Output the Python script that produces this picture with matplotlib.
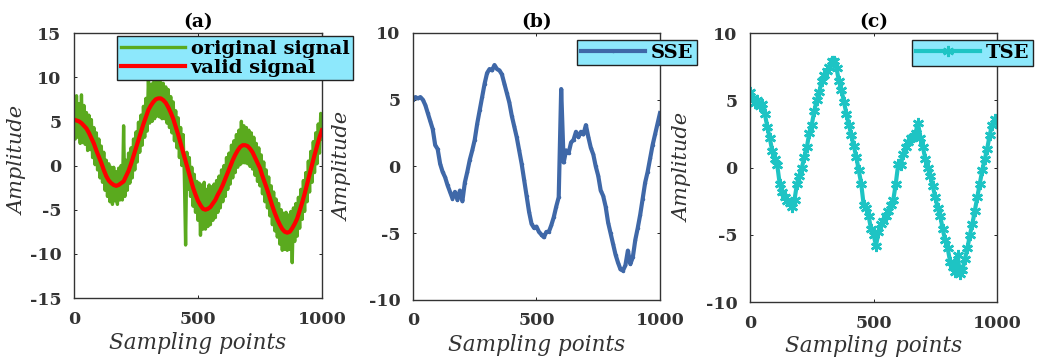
import numpy as np
import matplotlib
matplotlib.use("Agg")
import matplotlib.pyplot as plt

plt.rcParams["axes.unicode_minus"] = False

# sampling positions
x_orig = np.arange(0, 1001, 5)
x = np.arange(0, 1001, 10)

original_signal = [
    6.7, 3.0, 7.9, 3.2, 7.0, 2.5, 8.0, 2.6, 6.8, 2.4,
    6.0, 1.7, 5.7, 1.8, 5.2, 0.9, 4.3, 0.1, 3.7, -0.5,
    3.0, -1.4, 2.2, -1.9, 1.5, -2.8, 0.6, -3.5, 0.2, -4.1,
    -0.2, -4.4, -0.2, -4.0, -0.7, -4.4, -0.3, -3.9, 0.0, -3.9,
    4.5, -3.5, 0.6, -2.8, 1.4, -2.0, 2.0, -1.4, 3.0, -0.5,
    3.8, 0.4, 4.9, 1.5, 5.7, 2.3, 6.7, 3.2, 7.6, 3.9,
    10.0, 4.8, 9.2, 5.0, 9.4, 5.3, 9.4, 5.6, 9.6, 5.5,
    9.4, 5.3, 9.3, 5.3, 8.9, 4.8, 8.6, 4.3, 7.8, 3.7,
    7.2, 2.8, 6.2, 2.0, 5.4, 0.9, 4.3, 0.0, 3.5, -1.2,
    -9.0, 1.5, -2.7, 0.9, -3.5, -0.2, -4.6, -1.0, -5.3, -1.8,
    -6.2, -2.0, -7.9, -2.2, -7.2, -1.9, -7.2, -2.7, -6.9, -2.2,
    -6.7, -2.4, -6.2, -2.1, -5.9, -1.7, -5.3, -1.2, -4.8, -0.5,
    -4.1, 0.0, -3.5, 0.9, -2.7, 1.4, -2.1, 2.3, -1.4, 2.8,
    -0.8, 3.5, -0.2, 4.0, 0.1, 5.0, 0.3, 4.5, 0.3, 4.3,
    0.2, 4.0, -0.1, 3.7, -0.4, 3.2, -1.1, 2.5, -1.8, 2.0,
    -2.3, 1.2, -3.2, 0.4, -4.1, -0.5, -4.8, -1.3, -5.7, -2.3,
    -6.7, -3.0, -7.4, -3.8, -8.1, -4.3, -8.9, -5.0, -9.6, -5.4,
    -9.5, -5.3, -9.6, -5.6, -9.5, -5.2, -11.0, -4.8, -8.6, -4.3,
    -8.0, -3.6, -7.1, -2.7, -6.1, -1.7, -5.2, -0.8, -4.1, 0.5,
    -3.0, 1.6, -1.9, 2.7, -0.8, 3.7, 0.2, 4.7, 1.4, 5.9,
    3.0,
]

valid_signal = [
    5.2, 5.1, 5.0, 4.8, 4.5, 4.2, 3.7, 3.1, 2.5, 1.7,
    1.0, 0.3, -0.5, -1.2, -1.7, -2.0, -2.2, -2.3, -2.2, -2.0,
    -1.8, -1.2, -0.6, 0.2, 1.1, 2.0, 2.9, 3.8, 4.7, 5.5,
    6.3, 6.8, 7.2, 7.5, 7.6, 7.6, 7.4, 7.1, 6.6, 6.0,
    5.3, 4.4, 3.5, 2.5, 1.5, 0.5, -0.5, -1.5, -2.5, -3.3,
    -4.0, -4.5, -4.9, -5.0, -4.9, -4.7, -4.3, -3.9, -3.3, -2.8,
    -2.2, -1.5, -0.8, -0.1, 0.6, 1.2, 1.7, 2.1, 2.3, 2.3,
    2.2, 1.9, 1.5, 0.9, 0.3, -0.3, -1.2, -2.0, -2.8, -3.7,
    -4.6, -5.4, -6.1, -6.7, -7.2, -7.5, -7.6, -7.5, -7.1, -6.6,
    -6.0, -5.1, -4.2, -3.2, -2.1, -1.0, 0.1, 1.2, 2.2, 3.2,
    4.0,
]

sse = [
    5.0, 5.2, 5.1, 5.2, 5.0, 4.6, 4.0, 3.4, 2.8, 1.6,
    1.3, 0.2, -0.4, -0.8, -1.4, -1.9, -2.4, -1.9, -2.5, -1.8,
    -2.6, -1.2, -0.4, 0.5, 1.2, 2.0, 3.2, 4.2, 5.2, 6.2,
    7.0, 7.3, 7.2, 7.6, 7.3, 7.2, 6.9, 6.2, 5.5, 4.8,
    3.8, 3.0, 2.2, 1.2, 0.2, -1.0, -2.2, -3.4, -4.3, -4.6,
    -4.5, -4.9, -5.1, -5.3, -4.9, -4.9, -4.4, -3.8, -3.0, -2.3,
    5.8, 0.3, 1.2, 1.0, 1.8, 2.0, 2.6, 2.2, 2.6, 2.4,
    3.1, 2.2, 1.4, 0.9, 0.0, -0.7, -1.8, -2.2, -3.0, -4.2,
    -5.0, -5.8, -6.6, -7.2, -7.7, -7.8, -7.4, -6.3, -7.3, -6.8,
    -5.5, -4.6, -3.6, -2.4, -1.2, -0.4, 0.6, 1.6, 2.4, 3.2,
    4.0,
]

tse = [
    5.6, 5.2, 4.8, 5.0, 4.6, 4.7, 4.0, 3.0, 2.2, 1.2,
    0.6, 0.2, -1.2, -1.8, -2.2, -2.5, -2.6, -2.9, -2.4, -1.2,
    -0.6, 0.0, 0.8, 1.5, 2.6, 3.2, 4.2, 5.0, 5.6, 6.4,
    6.9, 7.2, 7.5, 7.9, 7.9, 7.4, 6.4, 5.8, 4.9, 4.0,
    3.2, 2.4, 1.6, 0.8, -0.2, -1.2, -2.8, -3.0, -3.6, -4.6,
    -5.0, -5.8, -4.8, -4.2, -4.0, -3.6, -3.2, -2.8, -2.4, -1.2,
    0.3, 0.2, 1.0, 1.5, 1.9, 2.2, 2.3, 2.6, 3.3, 2.2,
    1.5, 0.6, 0.0, -0.6, -1.4, -2.2, -3.0, -3.6, -4.6, -5.4,
    -6.0, -7.0, -7.4, -7.8, -6.5, -7.9, -7.6, -6.8, -6.0, -5.0,
    -4.2, -3.2, -2.2, -1.2, -0.2, 0.6, 1.4, 2.4, 3.2, 3.6,
    3.5,
]

LEGEND_BG = "#8de8fc"
SERIF = "DejaVu Serif"

fig = plt.figure(figsize=(10.41, 3.61), dpi=100)
ax_a = fig.add_axes([0.0711, 0.1745, 0.2382, 0.734])
ax_b = fig.add_axes([0.3967, 0.169, 0.2373, 0.7396])
ax_c = fig.add_axes([0.7205, 0.1634, 0.2373, 0.745])

ax_a.plot(x_orig, original_signal, color="#5aaa1e", lw=2.4, label="original signal")
ax_a.plot(x, valid_signal, color="#ff0000", lw=3.0, label="valid signal")
ax_b.plot(x, sse, color="#3f68a8", lw=3.0, marker=".", ms=3, label="SSE")
ax_c.plot(x, tse, color="#1ec4c4", lw=3.0, marker=(6, 2, 0), ms=8, mew=1.8,
          label="TSE")

# axes, title, y range, legend anchor, ylabel position, xlabel position
panels = [
    (ax_a, "(a)", (-15, 15), (0.173, 0.99), (-0.226, 0.52), (0.5, -0.17)),
    (ax_b, "(b)", (-10, 10), (0.664, 0.975), (-0.283, 0.5), (0.5, -0.169)),
    (ax_c, "(c)", (-10, 10), (0.656, 0.975), (-0.271, 0.5), (0.5, -0.164)),
]
for ax, title, ylim, anchor, ylab_pos, xlab_pos in panels:
    ax.set_xlim(0, 1000)
    ax.set_ylim(*ylim)
    ax.set_xticks([0, 500, 1000])
    ax.set_yticks(np.arange(ylim[0], ylim[1] + 1, 5))
    ax.tick_params(direction="in", length=2, width=0.6, top=True, right=True,
                   labelsize=12.5)
    ax.tick_params(axis="x", pad=9)
    ax.tick_params(axis="y", pad=9)
    for lab in ax.get_xticklabels() + ax.get_yticklabels():
        lab.set_fontfamily(SERIF)
        lab.set_fontweight("bold")
        lab.set_color("#333333")
    for sp in ax.spines.values():
        sp.set_linewidth(1.0)
        sp.set_color("#333333")
    ax.set_title(title, fontsize=13.5, fontweight="bold", family=SERIF, pad=4)
    ax.set_xlabel("Sampling points", fontsize=15.5, style="italic", family=SERIF,
                  color="#333333")
    ax.set_ylabel("Amplitude", fontsize=15, style="italic", family=SERIF,
                  color="#333333")
    ax.xaxis.set_label_coords(*xlab_pos)
    ax.xaxis.label.set_verticalalignment("center")
    ax.yaxis.set_label_coords(*ylab_pos)
    ax.yaxis.label.set_verticalalignment("center")
    leg = ax.legend(loc="upper left", bbox_to_anchor=anchor, fancybox=False,
                    framealpha=1, facecolor=LEGEND_BG, edgecolor="#222222",
                    handlelength=3.3, borderpad=0.2, labelspacing=0.05,
                    handletextpad=0.3, borderaxespad=0,
                    prop={"family": SERIF, "weight": "bold", "size": 14})
    leg.get_frame().set_linewidth(1.0)
    leg.set_zorder(5)

fig.savefig("out.png", dpi=100)
